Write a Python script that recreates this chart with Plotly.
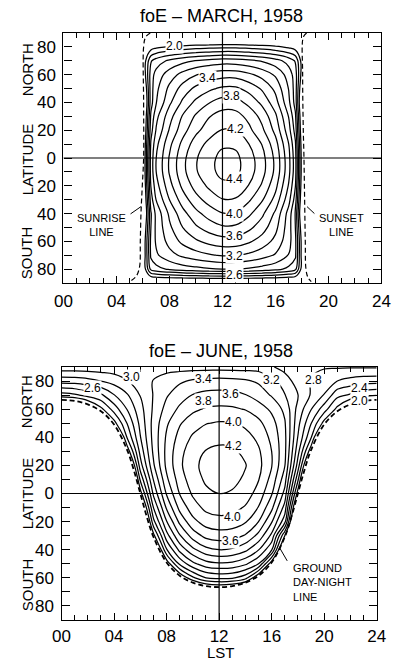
import plotly.graph_objects as go

# ---------------- DATA ----------------
# March 1958 foE (MHz) grid: rows = latitude (-90..90), columns = LST hours
march_hours = [0, 5.6, 6.1, 6.6, 7, 8, 9, 10, 11, 12, 13, 14, 15, 16, 17, 17.5, 18.0, 18.5, 24]
march_lats = [-90, -80, -70, -60, -50, -40, -30, -20, -10, 0, 10, 20, 30, 40, 50, 60, 70, 80, 90]
march_foe = [
    [0.5, 0.5, 1.40, 1.60, 1.60, 1.60, 1.60, 1.60, 1.60, 1.60, 1.60, 1.60, 1.60, 1.60, 1.60, 1.60, 1.40, 0.5, 0.5],
    [0.5, 0.5, 1.90, 2.46, 2.53, 2.63, 2.70, 2.74, 2.78, 2.80, 2.80, 2.77, 2.72, 2.66, 2.55, 2.46, 1.90, 0.5, 0.5],
    [0.5, 0.5, 1.90, 2.64, 2.77, 2.93, 3.04, 3.12, 3.18, 3.22, 3.21, 3.16, 3.08, 2.98, 2.79, 2.64, 1.90, 0.5, 0.5],
    [0.5, 0.5, 1.90, 2.65, 2.83, 3.07, 3.25, 3.37, 3.46, 3.51, 3.51, 3.43, 3.31, 3.14, 2.87, 2.65, 1.90, 0.5, 0.5],
    [0.5, 0.5, 1.81, 2.60, 2.85, 3.16, 3.40, 3.57, 3.69, 3.77, 3.76, 3.65, 3.49, 3.26, 2.89, 2.60, 1.81, 0.5, 0.5],
    [0.5, 0.5, 1.68, 2.58, 2.86, 3.24, 3.53, 3.74, 3.89, 3.99, 3.98, 3.84, 3.64, 3.36, 2.92, 2.58, 1.68, 0.5, 0.5],
    [0.5, 0.5, 1.76, 2.71, 3.01, 3.40, 3.70, 3.93, 4.08, 4.19, 4.18, 4.03, 3.82, 3.53, 3.07, 2.71, 1.76, 0.5, 0.5],
    [0.5, 0.5, 1.83, 2.81, 3.12, 3.53, 3.85, 4.08, 4.24, 4.35, 4.34, 4.19, 3.97, 3.66, 3.18, 2.81, 1.83, 0.5, 0.5],
    [0.5, 0.5, 1.88, 2.88, 3.20, 3.62, 3.94, 4.18, 4.34, 4.46, 4.45, 4.29, 4.07, 3.75, 3.26, 2.88, 1.88, 0.5, 0.5],
    [0.5, 0.5, 1.88, 2.88, 3.20, 3.62, 3.94, 4.18, 4.34, 4.46, 4.45, 4.29, 4.07, 3.75, 3.26, 2.88, 1.88, 0.5, 0.5],
    [0.5, 0.5, 1.84, 2.83, 3.14, 3.55, 3.86, 4.10, 4.26, 4.37, 4.36, 4.20, 3.99, 3.68, 3.20, 2.83, 1.84, 0.5, 0.5],
    [0.5, 0.5, 1.77, 2.72, 3.02, 3.42, 3.72, 3.95, 4.10, 4.21, 4.20, 4.05, 3.84, 3.54, 3.08, 2.72, 1.77, 0.5, 0.5],
    [0.5, 0.5, 1.72, 2.64, 2.94, 3.32, 3.62, 3.83, 3.99, 4.09, 4.08, 3.94, 3.73, 3.44, 2.99, 2.64, 1.72, 0.5, 0.5],
    [0.5, 0.5, 1.64, 2.52, 2.79, 3.16, 3.44, 3.65, 3.79, 3.89, 3.88, 3.74, 3.55, 3.28, 2.85, 2.52, 1.64, 0.5, 0.5],
    [0.5, 0.5, 1.74, 2.51, 2.75, 3.05, 3.28, 3.45, 3.56, 3.64, 3.64, 3.53, 3.37, 3.15, 2.79, 2.51, 1.74, 0.5, 0.5],
    [0.5, 0.5, 1.89, 2.50, 2.68, 2.90, 3.07, 3.19, 3.27, 3.32, 3.32, 3.24, 3.13, 2.97, 2.71, 2.50, 1.89, 0.5, 0.5],
    [0.5, 0.5, 1.90, 2.38, 2.49, 2.64, 2.74, 2.81, 2.86, 2.90, 2.89, 2.85, 2.78, 2.68, 2.52, 2.38, 1.90, 0.5, 0.5],
    [0.5, 0.5, 1.66, 1.89, 1.95, 2.02, 2.07, 2.11, 2.13, 2.15, 2.15, 2.12, 2.09, 2.04, 1.96, 1.89, 1.66, 0.5, 0.5],
    [0.5, 0.5, 1.00, 1.20, 1.20, 1.20, 1.20, 1.20, 1.20, 1.20, 1.20, 1.20, 1.20, 1.20, 1.20, 1.20, 1.00, 0.5, 0.5],
]

# June 1958 foE (MHz) grid
june_hours = list(range(0, 25))
june_lats = [-90, -80, -70, -60, -50, -40, -30, -20, -10, 0, 10, 20, 30, 40, 50, 60, 70, 80, 90]
june_foe = [
    [0] * 25,
    [0, 0, 0, 0, 0, 0, 0, 0, 0.03, 0.23, 0.38, 0.48, 0.51, 0.48, 0.38, 0.23, 0.03, 0, 0, 0, 0, 0, 0, 0, 0],
    [0, 0, 0, 0, 0, 0, 0, 0.15, 0.60, 0.99, 1.29, 1.48, 1.55, 1.48, 1.29, 0.99, 0.60, 0.15, 0, 0, 0, 0, 0, 0, 0],
    [0, 0, 0, 0, 0, 0, 0, 0.55, 1.21, 1.78, 2.16, 2.40, 2.45, 2.43, 2.28, 1.78, 1.21, 0.55, 0, 0, 0, 0, 0, 0, 0],
    [0, 0, 0, 0, 0, 0, 0.08, 0.99, 1.85, 2.44, 2.75, 2.92, 2.97, 2.95, 2.84, 2.60, 1.85, 0.99, 0.08, 0, 0, 0, 0, 0, 0],
    [0, 0, 0, 0, 0, 0, 0.37, 1.46, 2.38, 2.86, 3.15, 3.34, 3.40, 3.37, 3.25, 3.01, 2.62, 1.46, 0.37, 0, 0, 0, 0, 0, 0],
    [0, 0, 0, 0, 0, 0, 0.71, 1.93, 2.72, 3.18, 3.49, 3.66, 3.71, 3.69, 3.58, 3.34, 2.95, 2.00, 0.71, 0, 0, 0, 0, 0, 0],
    [0, 0, 0, 0, 0, 0, 1.09, 2.34, 2.99, 3.45, 3.74, 3.89, 3.93, 3.91, 3.82, 3.60, 3.22, 2.67, 1.09, 0, 0, 0, 0, 0, 0],
    [0, 0, 0, 0, 0, 0.08, 1.49, 2.60, 3.23, 3.66, 3.91, 4.05, 4.09, 4.07, 3.98, 3.79, 3.45, 2.92, 1.49, 0.08, 0, 0, 0, 0, 0],
    [0, 0, 0, 0, 0, 0.47, 1.90, 2.84, 3.42, 3.81, 4.03, 4.16, 4.20, 4.18, 4.10, 3.92, 3.62, 3.13, 1.90, 0.47, 0, 0, 0, 0, 0],
    [0, 0, 0, 0, 0, 0.91, 2.24, 3.01, 3.56, 3.90, 4.11, 4.23, 4.27, 4.25, 4.17, 4.01, 3.73, 3.29, 2.24, 0.91, 0, 0, 0, 0, 0],
    [0, 0, 0, 0, 0.13, 1.37, 2.51, 3.17, 3.65, 3.96, 4.15, 4.26, 4.30, 4.28, 4.21, 4.06, 3.81, 3.41, 2.51, 1.37, 0.13, 0, 0, 0, 0],
    [0, 0, 0, 0, 0.71, 1.86, 2.67, 3.24, 3.66, 3.94, 4.11, 4.21, 4.24, 4.23, 4.16, 4.03, 3.80, 3.45, 2.67, 1.86, 0.71, 0, 0, 0, 0],
    [0, 0, 0, 0.45, 1.32, 2.22, 2.79, 3.27, 3.63, 3.87, 4.03, 4.12, 4.15, 4.14, 4.08, 3.95, 3.75, 3.45, 2.79, 2.22, 1.32, 0.45, 0, 0, 0],
    [0.18, 0.30, 0.66, 1.22, 1.92, 2.41, 2.86, 3.27, 3.57, 3.78, 3.91, 3.99, 4.02, 4.01, 3.95, 3.85, 3.68, 3.42, 2.86, 2.41, 1.92, 1.22, 0.66, 0.30, 0.18],
    [1.21, 1.30, 1.58, 1.94, 2.29, 2.61, 2.93, 3.23, 3.47, 3.64, 3.76, 3.82, 3.84, 3.83, 3.79, 3.70, 3.56, 3.35, 2.93, 2.61, 2.29, 1.94, 1.58, 1.30, 1.21],
    [2.11, 2.16, 2.27, 2.36, 2.59, 2.78, 3.01, 3.21, 3.38, 3.51, 3.61, 3.66, 3.67, 3.66, 3.61, 3.51, 3.38, 3.21, 3.01, 2.78, 2.59, 2.26, 2.17, 2.06, 2.01],
    [2.68, 2.69, 2.73, 2.80, 2.88, 2.99, 3.10, 3.21, 3.30, 3.37, 3.43, 3.46, 3.47, 3.46, 3.43, 3.37, 3.25, 3.11, 2.90, 2.79, 2.68, 2.60, 2.53, 2.49, 2.48],
    [3.12, 3.12, 3.12, 3.12, 3.12, 3.12, 3.12, 3.12, 3.12, 3.12, 3.12, 3.12, 3.12, 3.12, 3.12, 3.12, 3.02, 2.92, 2.82, 2.82, 2.82, 2.82, 2.82, 2.82, 2.82],
]

# Sunrise / sunset lines (March) and ground day-night line (June): (LST, latitude)
march_sunrise_hours = [6.55, 6.2, 6.05, 6.05, 6.05, 5.95, 5.85, 5.8, 5.75, 5.5, 5.0]
march_sunrise_lats = [90, 87, 80, 40, 0, -20, -40, -60, -78, -85, -89]
march_sunset_hours = [18.35, 18.1, 18.05, 18.1, 18.15, 18.2, 18.25, 18.3, 18.45, 18.7]
march_sunset_lats = [90, 87, 60, 20, 0, -30, -60, -80, -86, -89]
june_terminator_hours = [0, 1, 2, 3, 4, 5, 5.5, 6, 6.5, 7, 8, 9, 10, 11, 12,
                         13, 14, 15, 16, 17, 17.5, 18, 18.5, 19, 20, 21, 22, 23, 24]
june_terminator_lats = [66.6, 65.9, 63.4, 58.5, 49.1, 30.9, 16.8, 0, -16.8, -30.9, -49.1, -58.5, -63.4, -65.9, -66.6,
                        -65.9, -63.4, -58.5, -49.1, -30.9, -16.8, 0, 16.8, 30.9, 49.1, 58.5, 63.4, 65.9, 66.6]

# Contour labels (value, LST, latitude)
march_label_values = [2.0, 3.4, 3.8, 4.2, 4.4, 4.0, 3.6, 3.2, 2.6]
march_label_hours = [8.4, 10.9, 12.7, 12.95, 12.9, 12.9, 12.9, 12.9, 12.9]
march_label_lats = [81, 57.5, 45, 21, -15, -40, -56, -70.5, -84]
june_label_values = [2.6, 3.0, 3.4, 3.6, 3.8, 4.0, 4.2, 3.2, 2.8, 2.4, 2.0, 4.0, 3.6]
june_label_hours = [2.35, 5.3, 10.8, 12.9, 10.8, 13.1, 13.1, 16.0, 19.2, 22.7, 22.7, 13.0, 12.9]
june_label_lats = [75.4, 82.6, 81.8, 71, 65.5, 51, 34, 81, 81, 75.4, 65.5, -16.4, -33.5]

x_tick_step = 4
lat_tick_vals = [-80, -60, -40, -20, 0, 20, 40, 60, 80]
lat_tick_text = ["80", "60", "40", "20", "0", "20", "40", "60", "80"]
lat_minor_vals = list(range(-90, 91, 10))
ref_hour = 12
ref_lat = 0

# ---------------- FIGURE ----------------
FONT = "Liberation Sans, Arial, sans-serif"
fig = go.Figure()

black = [[0, "black"], [1, "black"]]
for hrs, lats, z, xa, ya in [(march_hours, march_lats, march_foe, "x", "y"),
                             (june_hours, june_lats, june_foe, "x2", "y2")]:
    fig.add_trace(go.Contour(
        x=hrs, y=lats, z=z, xaxis=xa, yaxis=ya,
        autocontour=False,
        contours=dict(start=2.0, end=4.41, size=0.2, coloring="lines", showlabels=False),
        line=dict(width=1.25, smoothing=1.0),
        colorscale=black, showscale=False, hoverinfo="skip",
    ))

fig.add_trace(go.Scatter(x=march_sunrise_hours, y=march_sunrise_lats, mode="lines",
                         line=dict(color="black", width=1.2, dash="5px,3px", shape="spline"),
                         xaxis="x", yaxis="y", hoverinfo="skip"))
fig.add_trace(go.Scatter(x=march_sunset_hours, y=march_sunset_lats, mode="lines",
                         line=dict(color="black", width=1.2, dash="5px,3px", shape="spline"),
                         xaxis="x", yaxis="y", hoverinfo="skip"))
fig.add_trace(go.Scatter(x=june_terminator_hours, y=june_terminator_lats, mode="lines",
                         line=dict(color="black", width=1.8, dash="5px,3px", shape="spline"),
                         xaxis="x2", yaxis="y2", hoverinfo="skip"))


def xaxis_cfg(domain, anchor, standoff):
    return dict(domain=domain, anchor=anchor, range=[0, 24], tickmode="linear", tick0=0,
                dtick=x_tick_step, tickformat="02d", ticks="inside", ticklen=7, tickwidth=1,
                tickcolor="black", minor=dict(dtick=1, tick0=0, ticks="inside", ticklen=5,
                                              tickcolor="black", tickwidth=1),
                showline=True, linecolor="black", linewidth=1.3, mirror="ticks",
                showgrid=False, zeroline=False, ticklabelstandoff=standoff,
                tickfont=dict(family=FONT, size=17, color="black"))


def yaxis_cfg(domain, anchor):
    return dict(domain=domain, anchor=anchor, range=[-90, 90], tickmode="array",
                tickvals=lat_tick_vals, ticktext=lat_tick_text, ticks="inside", ticklen=8,
                tickwidth=1, tickcolor="black",
                minor=dict(tickmode="array", tickvals=lat_minor_vals, ticks="inside", ticklen=8,
                           tickcolor="black", tickwidth=1),
                showline=True, linecolor="black", linewidth=1.3, mirror="ticks",
                showgrid=False, zeroline=False, ticklabelstandoff=3,
                tickfont=dict(family=FONT, size=17, color="black"))


fig.update_layout(
    width=401, height=661, margin=dict(l=0, r=0, t=0, b=0),
    paper_bgcolor="white", plot_bgcolor="white", showlegend=False,
    xaxis=xaxis_cfg([57 / 401, 390 / 401], "y", 2),
    yaxis=yaxis_cfg([1 - 283 / 661, 1 - 33 / 661], "x"),
    xaxis2=xaxis_cfg([55 / 401, 385 / 401], "y2", 0),
    yaxis2=yaxis_cfg([1 - 620 / 661, 1 - 367 / 661], "x2"),
)

shapes = []
for xr, yr in [("x", "y"), ("x2", "y2")]:
    shapes.append(dict(type="line", xref=xr, yref=yr, x0=0, x1=24, y0=ref_lat, y1=ref_lat,
                       line=dict(color="black", width=1.2)))
    shapes.append(dict(type="line", xref=xr, yref=yr, x0=ref_hour, x1=ref_hour, y0=-90, y1=90,
                       line=dict(color="black", width=1.2)))
fig.update_layout(shapes=shapes)

ann = []


def paper_text(text, xpix, ypix, size, angle=0):
    return dict(text=text, x=xpix / 401, y=1 - ypix / 661, xref="paper", yref="paper",
                xanchor="center", yanchor="middle", showarrow=False, textangle=angle,
                font=dict(family=FONT, size=size, color="black"))


ann.append(paper_text("foE – MARCH, 1958", 222, 15.5, 18))
ann.append(paper_text("foE – JUNE, 1958", 222, 351, 18))
ann.append(paper_text("LST", 222, 652, 15))
for label, ypix in [("NORTH", 70), ("LATITUDE", 160), ("SOUTH", 253),
                    ("NORTH", 402), ("LATITUDE", 494), ("SOUTH", 585)]:
    ann.append(paper_text(label, 19, ypix, 15, -90))

for vals, hrs, lats, xr, yr in [(march_label_values, march_label_hours, march_label_lats, "x", "y"),
                                (june_label_values, june_label_hours, june_label_lats, "x2", "y2")]:
    for v, h, la in zip(vals, hrs, lats):
        ann.append(dict(text=f"{v:.1f}", x=h, y=la, xref=xr, yref=yr, showarrow=False,
                        xanchor="center", yanchor="middle", bgcolor="white", borderpad=0,
                        font=dict(family=FONT, size=12, color="black")))

# line name labels with leaders
ann.append(dict(text="SUNRISE<br>LINE", x=2.9, y=-48, xref="x", yref="y", showarrow=False,
                xanchor="center", yanchor="middle", font=dict(family=FONT, size=11, color="black")))
ann.append(dict(text="SUNSET<br>LINE", x=21.0, y=-48, xref="x", yref="y", showarrow=False,
                xanchor="center", yanchor="middle", font=dict(family=FONT, size=11, color="black")))
ann.append(dict(text="GROUND<br>DAY-NIGHT<br>LINE", x=17.45, y=-63.5, xref="x2", yref="y2",
                xanchor="left", yanchor="middle", align="left", showarrow=False,
                font=dict(family=FONT, size=11, color="black")))
for (x0, y0, x1, y1, xr, yr) in [(4.95, -41, 5.85, -35, "x", "y"),
                                 (19.05, -41, 18.38, -35, "x", "y"),
                                 (17.25, -49, 16.6, -38.5, "x2", "y2")]:
    ann.append(dict(text="", x=x1, y=y1, ax=x0, ay=y0, xref=xr, yref=yr, axref=xr, ayref=yr,
                    showarrow=True, arrowhead=0, arrowwidth=1, arrowcolor="black"))

fig.update_layout(annotations=ann)
fig.write_html("out.html")
